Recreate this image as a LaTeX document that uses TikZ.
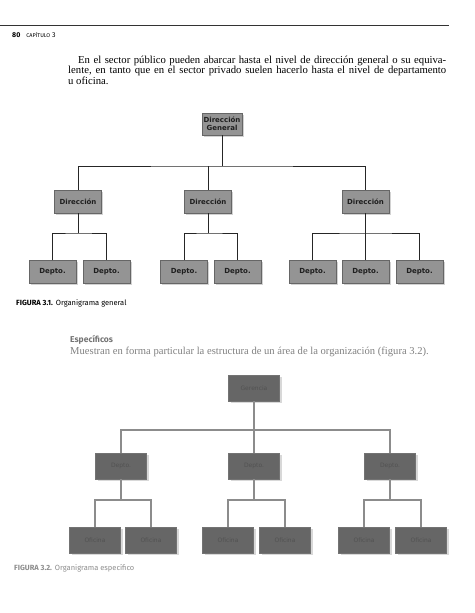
\documentclass[tikz,border=0pt]{standalone}
\usepackage{fontspec}
\setmainfont{Liberation Serif}
\newfontfamily\boxfont{DejaVu Sans}
\newfontfamily\capfont{Fira Sans}
\usetikzlibrary{shadows}

\begin{document}
\begin{tikzpicture}[x=1pt,y=-1pt,
  orgbox/.style={draw=black!60, fill=black!42, text=black!88, line width=0.5pt,
    font=\boxfont\bfseries\fontsize{7}{7.6}\selectfont, align=center,
    minimum width=47pt, minimum height=23pt, inner sep=1pt,
    drop shadow={shadow xshift=1.5pt, shadow yshift=-1.5pt, fill=black!35}},
  fadebox/.style={draw=black!55, fill=black!60, text=black!68, line width=0.8pt,
    font=\boxfont\fontsize{6}{6.5}\selectfont,
    minimum width=51pt, minimum height=26pt, inner sep=1pt,
    drop shadow={shadow xshift=2pt, shadow yshift=-2pt, fill=black!30}},
  link/.style={black!85, line width=0.6pt},
  fadelink/.style={black!45, line width=1.4pt}]
\useasboundingbox (0,0) rectangle (474,613);

% page head
\draw[black!80, line width=0.8pt] (0,25) -- (449,25);
\node[anchor=west, inner sep=0pt, font=\capfont\fontsize{7}{8}\selectfont] (head) at (12,35)
  {\textbf{80}\hspace{6pt}{\fontsize{5.5}{6}\selectfont CAPÍTULO}~3};
\node[anchor=north west, inner sep=0pt, text width=378pt, align=justify,
  font=\fontsize{10.7}{10.3}\selectfont] (intro) at (68,56)
  {\hspace*{10pt}En el sector público pueden abarcar hasta el nivel de dirección general o su equiva-\linebreak
  lente, en tanto que en el sector privado suelen hacerlo hasta el nivel de departamento\linebreak
  u oficina.};

% figura 3.1
\node[orgbox, minimum width=40pt, minimum height=22pt] (dg) at (222,124) {Dirección\\General};
\node[orgbox] (d1) at (78,201.5) {Dirección};
\node[orgbox] (d2) at (208,201.5) {Dirección};
\node[orgbox] (d3) at (365.5,201.5) {Dirección};
\node[orgbox] (p11) at (52.5,272) {Depto.};
\node[orgbox] (p12) at (106.5,272) {Depto.};
\node[orgbox] (p21) at (184,272) {Depto.};
\node[orgbox] (p22) at (237.5,272) {Depto.};
\node[orgbox] (p31) at (312.5,272) {Depto.};
\node[orgbox] (p32) at (365.5,272) {Depto.};
\node[orgbox] (p33) at (419.5,272) {Depto.};
\coordinate (bar) at (222,166);
\coordinate (b1) at (78,233);
\coordinate (b2) at (208,233);
\coordinate (b3) at (365.5,233);
\draw[link] (dg.south) -- (bar);
\draw[link] (d1.north) |- (bar) -| (d3.north);
\draw[link] (d2.north) -- (d2.north |- bar);
\draw[link] (d1.south) -- (b1);
\draw[link] (p11.north) |- (b1) -| (p12.north);
\draw[link] (d2.south) -- (b2);
\draw[link] (p21.north) |- (b2) -| (p22.north);
\draw[link] (d3.south) -- (b3);
\draw[link] (p31.north) |- (b3) -| (p33.north);
\draw[link] (p32.north) -- (b3);
\node[anchor=west, inner sep=0pt, font=\capfont\fontsize{7.5}{8}\selectfont] (cap1) at (16,303)
  {\textbf{FIGURA 3.1.}\hspace{3pt}Organigrama general};

% especificos
\node[anchor=west, inner sep=0pt, text=black!55, font=\capfont\bfseries\fontsize{8.5}{9}\selectfont] (esp) at (70,340) {Específicos};
\node[anchor=west, inner sep=0pt, text=black!50, font=\fontsize{10.6}{10}\selectfont] (esptxt) at (70,352)
  {Muestran en forma particular la estructura de un área de la organización (figura 3.2).};

% figura 3.2
\node[fadebox] (g) at (254,388) {Gerencia};
\node[fadebox] (e1) at (121,466) {Depto.};
\node[fadebox] (e2) at (254,466) {Depto.};
\node[fadebox] (e3) at (390,466) {Depto.};
\node[fadebox] (o11) at (95,540) {Oficina};
\node[fadebox] (o12) at (151,540) {Oficina};
\node[fadebox] (o21) at (228,540) {Oficina};
\node[fadebox] (o22) at (285,540) {Oficina};
\node[fadebox] (o31) at (364,540) {Oficina};
\node[fadebox] (o32) at (421,540) {Oficina};
\coordinate (bar2) at (254,430);
\coordinate (c1) at (121,500);
\coordinate (c2) at (254,500);
\coordinate (c3) at (390,500);
\draw[fadelink] (g.south) -- (bar2);
\draw[fadelink] (e1.north) |- (bar2) -| (e3.north);
\draw[fadelink] (e2.north) -- (bar2);
\draw[fadelink] (e1.south) -- (c1);
\draw[fadelink] (o11.north) |- (c1) -| (o12.north);
\draw[fadelink] (e2.south) -- (c2);
\draw[fadelink] (o21.north) |- (c2) -| (o22.north);
\draw[fadelink] (e3.south) -- (c3);
\draw[fadelink] (o31.north) |- (c3) -| (o32.north);
\node[anchor=west, inner sep=0pt, text=black!45, font=\capfont\fontsize{7.5}{8}\selectfont] (cap2) at (14,568)
  {\textbf{FIGURA 3.2.}\hspace{3pt}Organigrama específico};
\end{tikzpicture}
\end{document}
